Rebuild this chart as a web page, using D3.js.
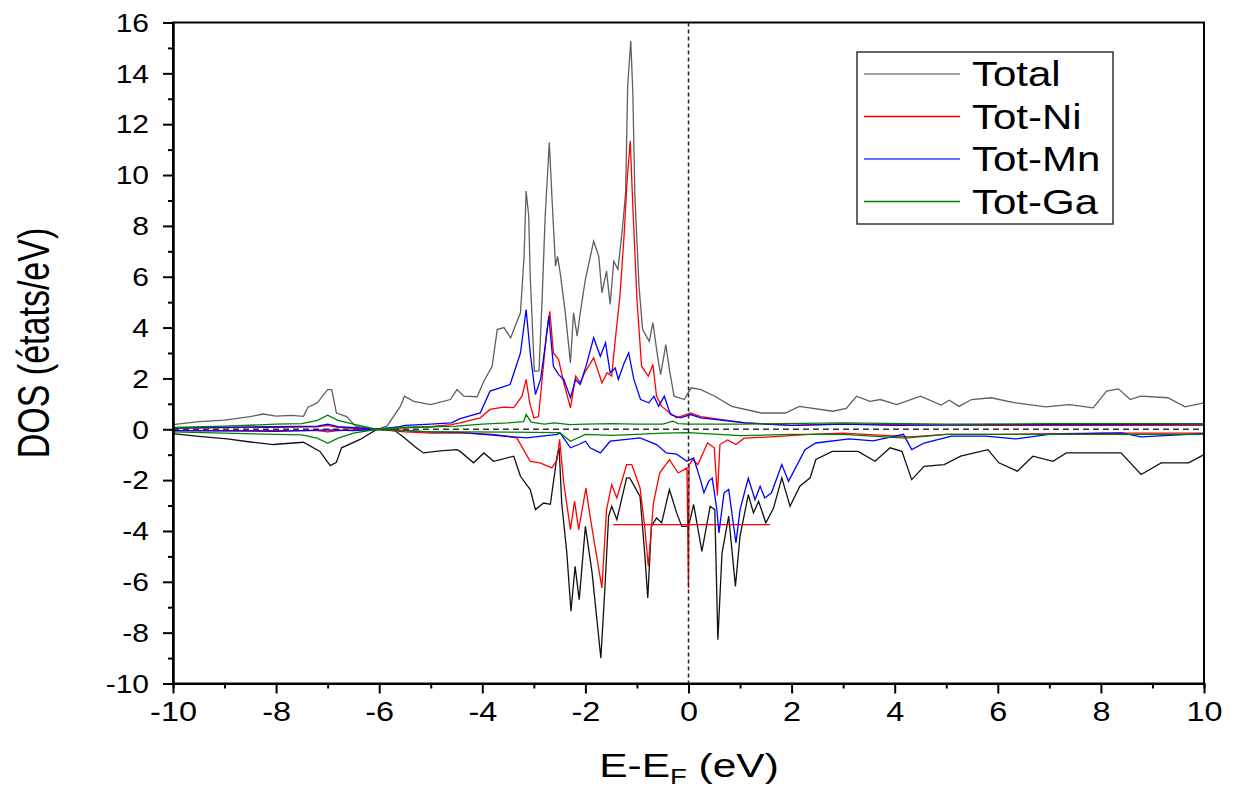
<!DOCTYPE html>
<html>
<head>
<meta charset="utf-8">
<script src="https://cdn.jsdelivr.net/npm/d3@7"></script>
<style>
  body { margin: 0; background: #fff; }
  svg { display: block; }
  text { font-family: "Liberation Sans", Arial, sans-serif; fill: #000; }
</style>
</head>
<body>
<div id="chart"></div>
<script>
// spin-up / spin-down DOS, [E - EF (eV), DOS (états/eV)]
const totalUp = [[-10,0.18],[-9.5,0.3],[-9,0.36],[-8.5,0.5],[-8.25,0.6],[-8,0.52],[-7.7,0.55],[-7.47,0.51],[-7.38,0.87],[-7.2,1.04],[-7.0,1.56],[-6.92,1.56],[-6.83,0.64],[-6.63,0.5],[-6.46,0.12],[-6.04,0],[-5.85,0.12],[-5.59,0.9],[-5.51,1.3],[-5.33,1.1],[-5.0,0.97],[-4.62,1.17],[-4.49,1.56],[-4.36,1.3],[-4.1,1.28],[-3.97,1.89],[-3.81,2.48],[-3.71,3.92],[-3.58,4.0],[-3.45,3.6],[-3.26,4.58],[-3.19,6.8],[-3.15,9.37],[-3.10,8.39],[-3.07,6.0],[-2.99,2.28],[-2.90,2.3],[-2.84,5.1],[-2.78,8.39],[-2.70,11.28],[-2.65,9.17],[-2.58,6.42],[-2.54,6.8],[-2.49,6.16],[-2.39,4.58],[-2.29,2.61],[-2.23,4.58],[-2.16,3.66],[-2.10,4.58],[-2.0,5.9],[-1.84,7.4],[-1.74,6.8],[-1.68,5.37],[-1.59,6.22],[-1.52,4.91],[-1.45,6.61],[-1.37,6.29],[-1.29,7.73],[-1.22,9.3],[-1.18,13.5],[-1.12,15.27],[-1.08,13.24],[-1.04,9.17],[-0.96,5.63],[-0.89,3.92],[-0.76,3.46],[-0.69,4.19],[-0.60,2.87],[-0.54,2.15],[-0.44,3.33],[-0.37,2.35],[-0.28,1.3],[-0.08,1.17],[0.05,1.63],[0.24,1.56],[0.51,1.3],[0.84,0.9],[1.41,0.64],[1.69,0.64],[1.88,0.64],[2.15,0.9],[2.8,0.71],[3.06,0.82],[3.26,1.3],[3.52,1.1],[3.72,1.17],[4.04,0.97],[4.5,1.3],[4.9,0.95],[5.06,1.14],[5.25,0.9],[5.49,1.17],[5.87,1.24],[6.34,1.04],[6.93,0.88],[7.39,0.97],[7.85,0.84],[8.11,1.5],[8.34,1.59],[8.57,1.17],[8.77,1.3],[9.3,1.24],[9.63,0.88],[10,1.04]];
const totalDown = [[-10,-0.17],[-9.5,-0.28],[-8.95,-0.38],[-8.5,-0.5],[-8.05,-0.6],[-7.47,-0.51],[-7.15,-0.87],[-6.95,-1.43],[-6.83,-1.3],[-6.73,-0.73],[-6.37,-0.4],[-6.04,0],[-5.7,-0.05],[-5.53,-0.3],[-5.3,-0.7],[-5.14,-0.93],[-4.82,-0.85],[-4.49,-0.8],[-4.43,-0.87],[-4.17,-1.32],[-3.97,-0.93],[-3.78,-1.26],[-3.39,-1.06],[-3.26,-1.85],[-3.07,-2.37],[-2.97,-3.16],[-2.81,-2.9],[-2.68,-2.95],[-2.55,-1.06],[-2.51,-0.73],[-2.46,-2.9],[-2.36,-4.87],[-2.28,-7.16],[-2.20,-5.39],[-2.12,-6.7],[-2.0,-3.82],[-1.87,-5.65],[-1.70,-9.0],[-1.62,-6.18],[-1.55,-3.42],[-1.49,-3.03],[-1.39,-3.55],[-1.20,-1.91],[-1.14,-1.91],[-0.94,-2.64],[-0.85,-4.87],[-0.79,-6.64],[-0.72,-3.82],[-0.62,-3.49],[-0.52,-3.68],[-0.37,-2.37],[-0.23,-3.29],[-0.13,-3.82],[0.0,-3.82],[0.10,-2.96],[0.26,-4.8],[0.42,-3.03],[0.51,-3.16],[0.57,-8.28],[0.65,-4.87],[0.78,-3.42],[0.91,-6.18],[1.0,-4.2],[1.16,-2.57],[1.26,-3.29],[1.36,-2.83],[1.50,-3.68],[1.65,-3.1],[1.81,-1.91],[1.97,-3.03],[2.16,-2.24],[2.36,-1.91],[2.47,-1.19],[2.79,-0.87],[3.29,-0.87],[3.62,-1.26],[3.91,-0.73],[4.14,-0.87],[4.33,-1.98],[4.57,-1.46],[4.96,-1.39],[5.28,-1.06],[5.81,-0.8],[6.02,-1.32],[6.38,-1.65],[6.68,-1.06],[7.07,-1.26],[7.33,-0.93],[8.39,-0.93],[8.78,-1.78],[9.17,-1.32],[9.70,-1.32],[10,-1.0]];
const niUp = [[-10,0.05],[-8,0.08],[-7.2,0.1],[-7,0.15],[-6.8,0.08],[-6.4,0.03],[-6.04,0],[-5.6,0.05],[-5,0.1],[-4.6,0.18],[-4.43,0.25],[-4.04,0.45],[-3.85,0.78],[-3.59,0.87],[-3.39,0.85],[-3.23,1.3],[-3.15,1.96],[-3.08,1.04],[-3.0,0.45],[-2.91,0.5],[-2.84,1.96],[-2.76,3.66],[-2.69,4.64],[-2.62,3.0],[-2.52,2.74],[-2.42,1.83],[-2.29,0.84],[-2.19,2.09],[-2.10,1.83],[-2.0,2.28],[-1.84,2.81],[-1.68,1.83],[-1.58,2.22],[-1.49,2.09],[-1.42,3.53],[-1.33,5.24],[-1.25,7.6],[-1.19,9.83],[-1.13,11.34],[-1.08,8.78],[-1.0,5.1],[-0.91,2.48],[-0.78,2.09],[-0.69,2.55],[-0.62,1.3],[-0.52,0.9],[-0.36,0.64],[-0.23,0.45],[0.04,0.64],[0.24,0.5],[1.1,0.25],[2,0.15],[3,0.2],[4,0.18],[6,0.15],[8,0.15],[10,0.15]];
const niDown = [[-10,-0.05],[-8,-0.05],[-7.2,-0.05],[-7,-0.1],[-6.8,-0.05],[-6.04,0],[-5.5,-0.1],[-5,-0.15],[-4.43,-0.14],[-3.78,-0.2],[-3.33,-0.34],[-3.07,-1.26],[-2.88,-1.32],[-2.65,-1.52],[-2.55,-1.2],[-2.50,-0.4],[-2.42,-2.11],[-2.29,-3.95],[-2.21,-2.83],[-2.13,-3.95],[-1.99,-2.31],[-1.91,-3.42],[-1.68,-6.24],[-1.59,-3.16],[-1.49,-2.18],[-1.39,-2.7],[-1.20,-1.39],[-1.1,-1.39],[-0.94,-2.31],[-0.85,-3.82],[-0.78,-5.39],[-0.68,-2.9],[-0.56,-1.72],[-0.37,-1.19],[-0.20,-1.72],[-0.03,-1.52],[0,-6.24],[0.01,-1.4],[0.08,-1.19],[0.18,-1.39],[0.37,-0.54],[0.50,-0.73],[0.56,-2.6],[0.61,-0.6],[0.76,-0.42],[0.92,-0.6],[1.08,-0.35],[1.59,-0.3],[2.36,-0.2],[3,-0.15],[4.3,-0.3],[5,-0.2],[6,-0.2],[8,-0.15],[10,-0.15]];
const niGlitch = [[-1.46,-3.75],[1.58,-3.75]];
const mnUp = [[-10,0.05],[-8,0.1],[-7.2,0.12],[-7,0.2],[-6.8,0.1],[-6.4,0.05],[-6.04,0],[-5.6,0.1],[-5.5,0.15],[-5,0.2],[-4.6,0.25],[-4.43,0.42],[-4.04,0.64],[-3.85,1.5],[-3.46,1.76],[-3.26,3.0],[-3.15,4.71],[-3.07,3.0],[-2.97,1.37],[-2.87,1.96],[-2.78,3.27],[-2.71,4.45],[-2.62,2.48],[-2.52,2.15],[-2.42,1.96],[-2.29,1.24],[-2.19,1.96],[-2.10,1.76],[-1.97,2.61],[-1.84,3.6],[-1.71,2.87],[-1.61,3.4],[-1.52,2.22],[-1.42,2.41],[-1.36,1.96],[-1.26,2.55],[-1.16,3.0],[-1.06,1.96],[-0.93,1.17],[-0.77,1.04],[-0.67,1.3],[-0.58,0.9],[-0.47,1.3],[-0.35,0.58],[-0.16,0.45],[0.04,0.58],[0.24,0.45],[1.1,0.25],[2,0.15],[3,0.2],[4,0.15],[6,0.18],[8,0.18],[10,0.2]];
const mnDown = [[-10,-0.05],[-8,-0.08],[-7,-0.02],[-6.5,-0.05],[-6.04,0],[-5.5,-0.05],[-5,-0.1],[-4.43,-0.12],[-3.14,-0.34],[-2.55,-0.2],[-2.49,-0.14],[-2.29,-0.73],[-2.13,-0.6],[-2.0,-0.47],[-1.91,-0.73],[-1.71,-0.93],[-1.52,-0.47],[-1.20,-0.4],[-0.94,-0.34],[-0.62,-0.6],[-0.43,-0.93],[-0.23,-0.98],[-0.03,-1.26],[0.10,-1.13],[0.23,-1.98],[0.30,-2.5],[0.39,-2.05],[0.46,-1.92],[0.55,-3.16],[0.59,-4.08],[0.69,-2.5],[0.78,-2.37],[0.92,-4.47],[1.0,-3.16],[1.16,-1.92],[1.29,-2.77],[1.39,-2.24],[1.48,-2.7],[1.61,-2.5],[1.81,-1.39],[1.94,-2.05],[2.26,-0.8],[2.47,-0.54],[3.12,-0.38],[3.58,-0.46],[4.17,-0.2],[4.33,-0.8],[4.57,-0.54],[5.1,-0.27],[5.76,-0.27],[6.34,-0.38],[7,-0.2],[8.4,-0.14],[8.78,-0.3],[10,-0.17]];
const gaUp = [[-10,0.07],[-9,0.12],[-8,0.2],[-7.5,0.22],[-7.2,0.35],[-7.0,0.55],[-6.8,0.35],[-6.5,0.2],[-6.04,0],[-5.5,0.08],[-5,0.1],[-4.5,0.12],[-4,0.2],[-3.5,0.25],[-3.2,0.3],[-3.15,0.58],[-3.05,0.28],[-2.8,0.2],[-2.6,0.25],[-2.3,0.18],[-2,0.2],[-1.5,0.22],[-1,0.2],[-0.5,0.2],[-0.3,0.32],[-0.2,0.22],[0,0.2],[1,0.2],[3,0.25],[5,0.2],[7,0.22],[10,0.22]];
const gaDown = [[-10,-0.1],[-9,-0.15],[-8,-0.2],[-7.5,-0.22],[-7.2,-0.35],[-7.0,-0.55],[-6.8,-0.35],[-6.5,-0.15],[-6.04,0],[-5.5,-0.05],[-5,-0.1],[-4.43,-0.1],[-3,-0.12],[-2.5,-0.13],[-2.29,-0.47],[-2.0,-0.2],[-1.5,-0.24],[-1,-0.2],[-0.5,-0.15],[0,-0.13],[1,-0.25],[2,-0.2],[3,-0.2],[4.2,-0.35],[5,-0.2],[7,-0.2],[10,-0.2]];

const legendNames = ['Total', 'Tot-Ni', 'Tot-Mn', 'Tot-Ga'];
const legendColors = ['#808080', '#ff0000', '#4040ff', '#008000'];
const xTicks = d3.range(-10, 11, 2);
const yTicks = d3.range(-10, 17, 2);

const W = 1233, H = 789;
const margin = { top: 22.5, right: 29, bottom: 105.5, left: 173 };
const stretch = 1.2; // the reference text is drawn a little wide

const x = d3.scaleLinear().domain([-10, 10]).range([margin.left, W - margin.right]);
const y = d3.scaleLinear().domain([-10, 16]).range([H - margin.bottom, margin.top]);

const svg = d3.select('#chart').append('svg')
  .attr('width', W)
  .attr('height', H);

const line = d3.line()
  .x((d) => x(d[0]))
  .y((d) => y(d[1]));

// zero reference line
svg.append('line')
  .attr('x1', x(-10)).attr('x2', x(10))
  .attr('y1', y(0)).attr('y2', y(0))
  .attr('stroke', '#333').attr('stroke-width', 1.5)
  .attr('stroke-dasharray', '6,4');

const series = [
  { data: totalUp, color: '#5f5f5f' },
  { data: totalDown, color: '#111111' },
  { data: niUp, color: '#ff0000' },
  { data: niDown, color: '#ff0000' },
  { data: niGlitch, color: '#ff0000' },
  { data: mnUp, color: '#0000ff' },
  { data: mnDown, color: '#0000ff' },
  { data: gaUp, color: '#008000' },
  { data: gaDown, color: '#008000' },
];

svg.append('g').selectAll('path')
  .data(series)
  .join('path')
  .attr('d', (d) => line(d.data))
  .attr('fill', 'none')
  .attr('stroke', (d) => d.color)
  .attr('stroke-width', 1.3);

svg.append('line')
  .attr('x1', x(0)).attr('x2', x(0))
  .attr('y1', y(16)).attr('y2', y(-10))
  .attr('stroke', '#222').attr('stroke-width', 1.5)
  .attr('stroke-dasharray', '4,3');

// frame
svg.append('rect')
  .attr('x', x(-10)).attr('y', y(16))
  .attr('width', x(10) - x(-10)).attr('height', y(-10) - y(16))
  .attr('fill', 'none').attr('stroke', '#000').attr('stroke-width', 2);

// axes (major + minor ticks)
const fmt = (d) => String(d);
const xAxis = svg.append('g')
  .attr('transform', `translate(0,${y(-10)})`)
  .call(d3.axisBottom(x).tickValues(xTicks).tickSize(10).tickSizeOuter(0).tickPadding(8).tickFormat(fmt));
svg.append('g')
  .attr('transform', `translate(0,${y(-10)})`)
  .call(d3.axisBottom(x).tickValues(d3.range(-9, 10, 2)).tickSize(5).tickFormat(''));

const yAxis = svg.append('g')
  .attr('transform', `translate(${x(-10)},0)`)
  .call(d3.axisLeft(y).tickValues(yTicks).tickSize(10).tickSizeOuter(0).tickPadding(6).tickFormat(fmt));
svg.append('g')
  .attr('transform', `translate(${x(-10)},0)`)
  .call(d3.axisLeft(y).tickValues(d3.range(-9, 16, 2)).tickSize(5).tickFormat(''));

svg.selectAll('.domain').attr('stroke', '#000').attr('stroke-width', 2);
svg.selectAll('.tick line').attr('stroke', '#000').attr('stroke-width', 2);
xAxis.selectAll('.tick text')
  .attr('font-size', 27)
  .attr('font-family', '"Liberation Sans", Arial, sans-serif')
  .attr('transform', `scale(${stretch},1)`);
yAxis.selectAll('.tick text')
  .attr('font-size', 25)
  .attr('font-family', '"Liberation Sans", Arial, sans-serif')
  .attr('x', -24 / stretch)
  .attr('dy', '0.35em')
  .attr('transform', `scale(${stretch},1)`);

// axis titles
const xTitle = svg.append('text')
  .attr('transform', `translate(689,777) scale(${stretch + 0.05},1)`)
  .attr('text-anchor', 'middle')
  .attr('font-size', 34);
xTitle.append('tspan').text('E-E');
xTitle.append('tspan').attr('font-size', 22).attr('dy', 7).text('F');
xTitle.append('tspan').attr('dy', -7).text(' (eV)');

svg.append('text')
  .attr('transform', `translate(34,343) rotate(-90) scale(1,${stretch + 0.1})`)
  .attr('text-anchor', 'middle')
  .attr('dy', '0.35em')
  .attr('font-size', 34)
  .text('DOS (états/eV)');

// legend
const legend = svg.append('g');
legend.append('rect')
  .attr('x', 857).attr('y', 52).attr('width', 256).attr('height', 172)
  .attr('fill', '#fff').attr('stroke', '#333').attr('stroke-width', 1.5);
const items = legend.selectAll('g.item')
  .data(legendNames)
  .join('g')
  .attr('class', 'item')
  .attr('transform', (d, i) => `translate(0,${74 + i * 42.5})`);
items.append('line')
  .attr('x1', 864).attr('x2', 960)
  .attr('stroke', (d, i) => legendColors[i]).attr('stroke-width', 1.3);
items.append('text')
  .attr('transform', `translate(972,12) scale(${stretch},1)`)
  .attr('font-size', 35)
  .text((d) => d);
</script>
</body>
</html>
